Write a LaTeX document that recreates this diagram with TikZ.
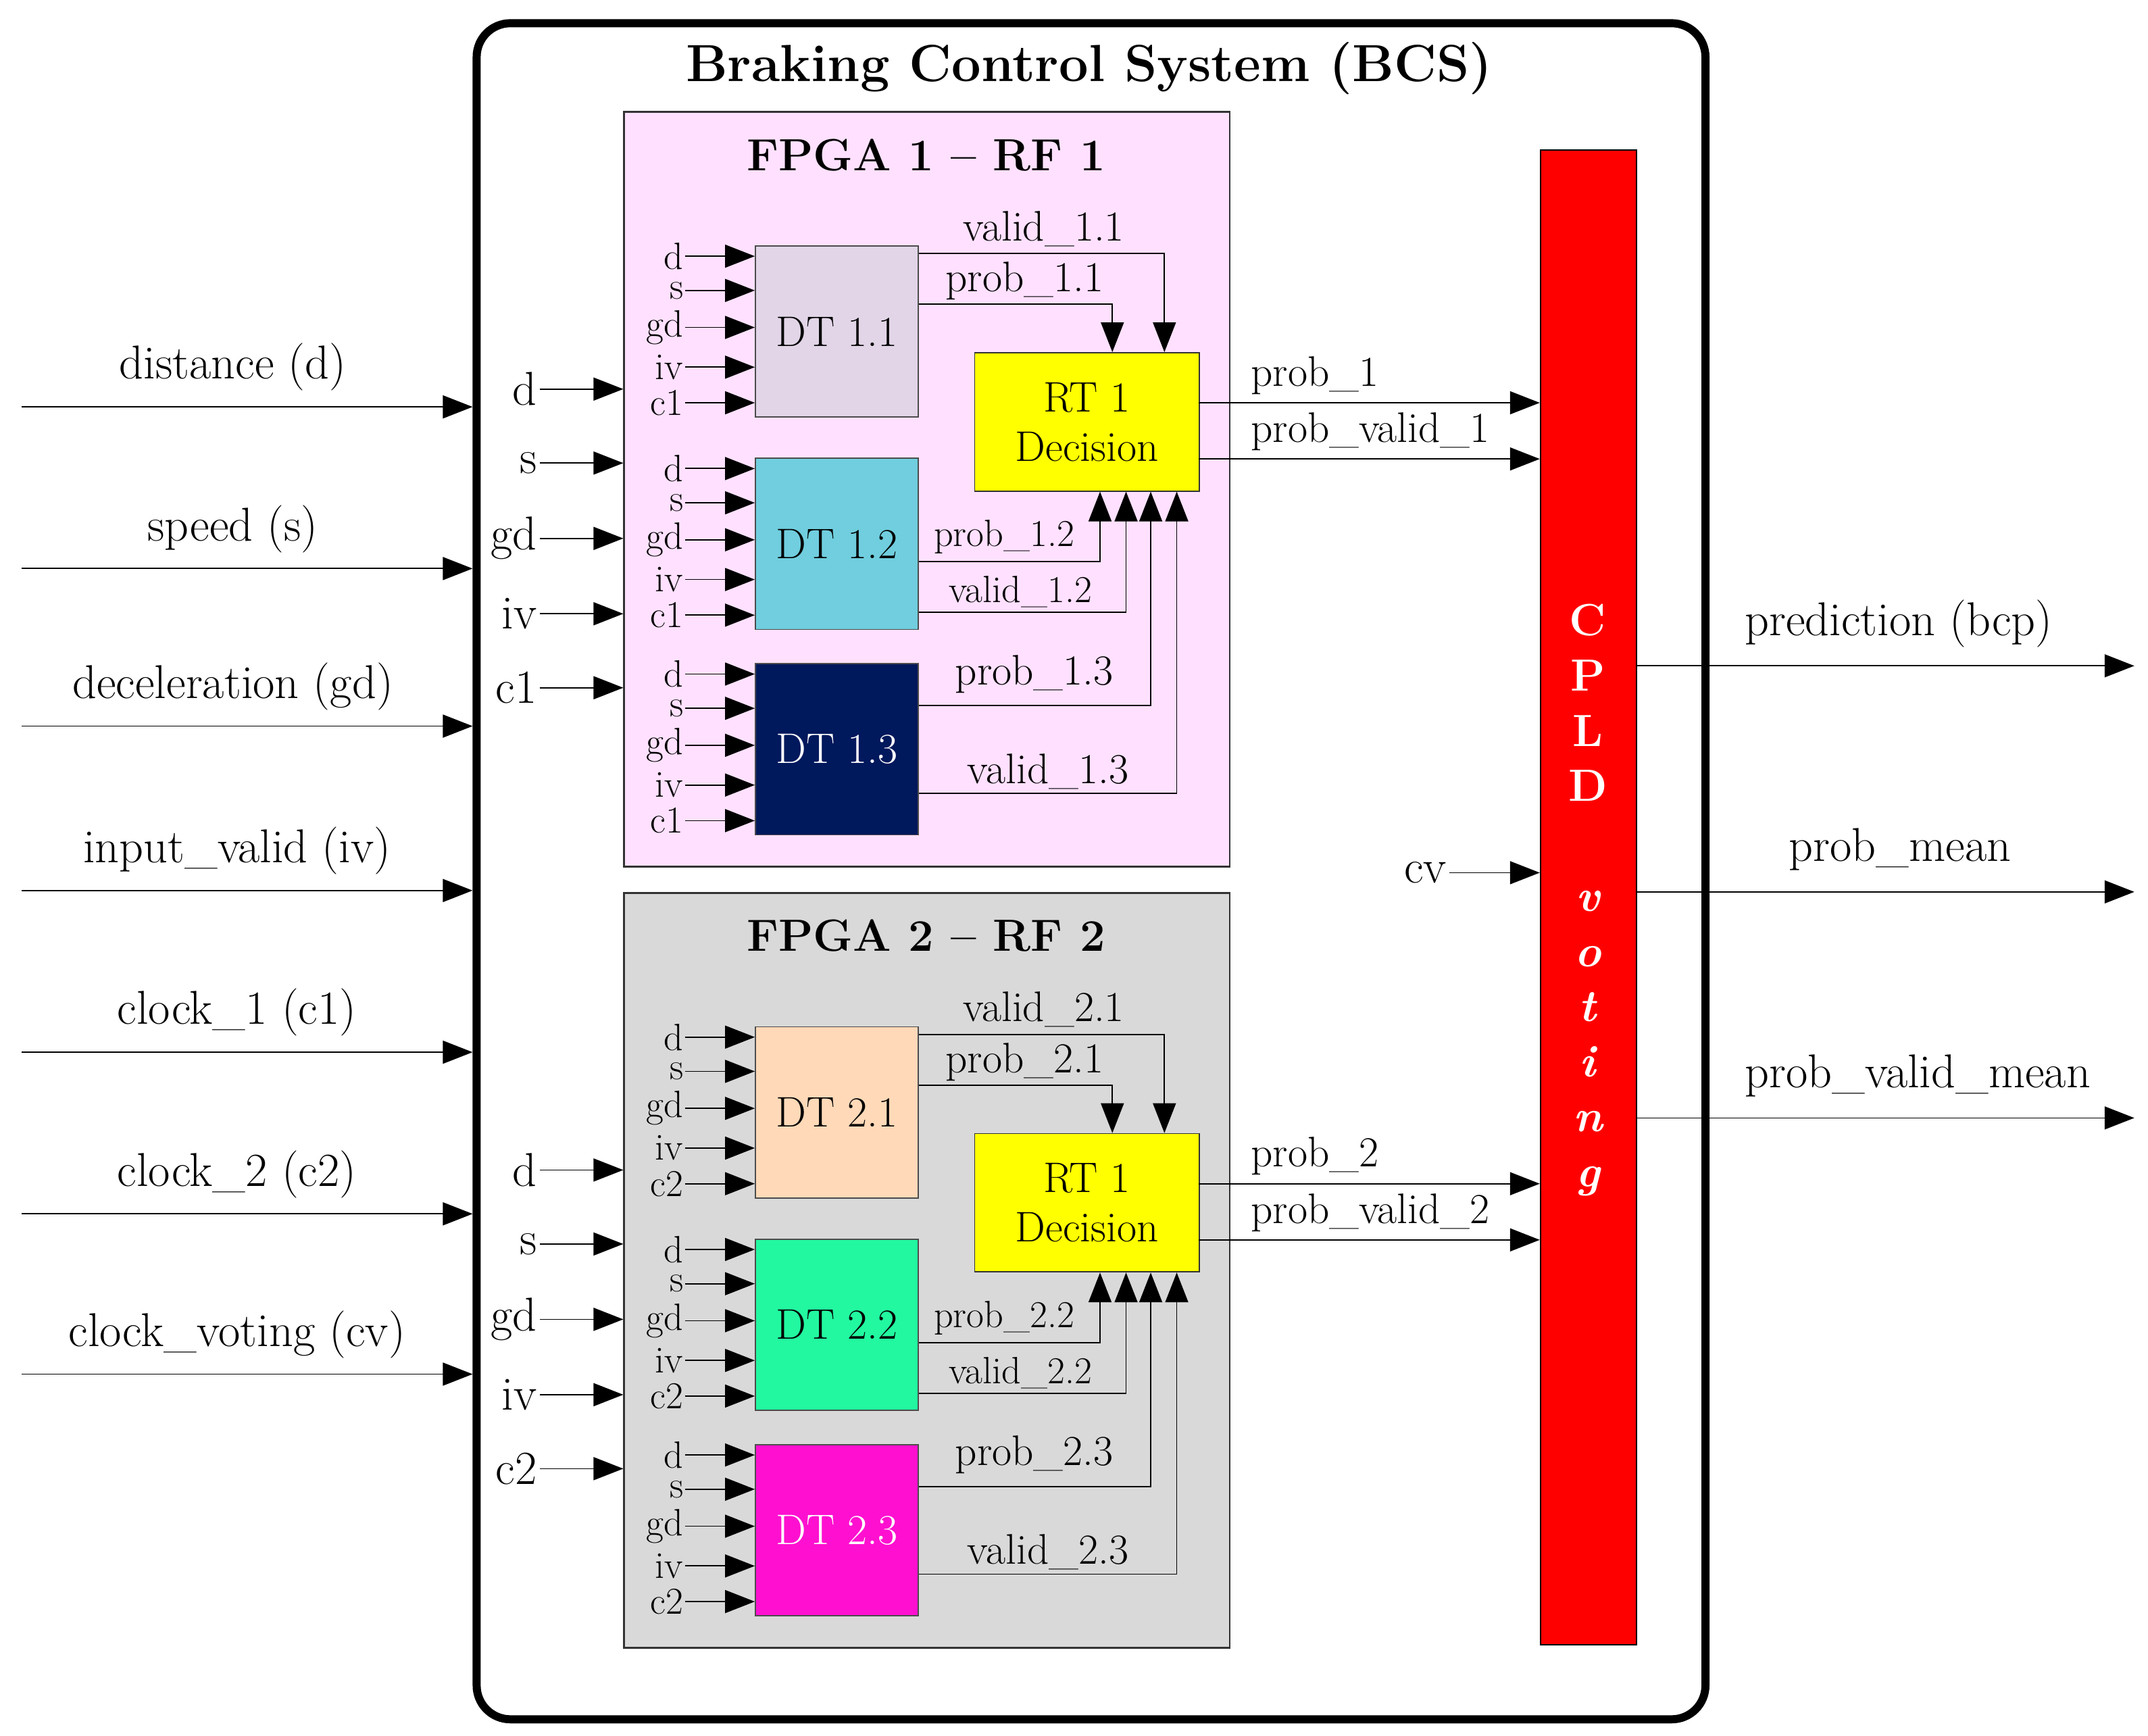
\documentclass[tikz,border=0pt]{standalone}
\usetikzlibrary{arrows.meta,calc}
\definecolor{pinkbg}{HTML}{FFE1FF}
\definecolor{graybg}{HTML}{D9D9D9}
\definecolor{dtA1}{HTML}{E1D5E7}
\definecolor{dtA2}{HTML}{70CEDE}
\definecolor{dtA3}{HTML}{00185C}
\definecolor{dtB1}{HTML}{FFD9B8}
\definecolor{dtB2}{HTML}{22F8A0}
\definecolor{dtB3}{HTML}{FF10D0}
\definecolor{yel}{HTML}{FFFF00}
\begin{document}
\begin{tikzpicture}[x=0.02028cm,y=-0.02028cm,
  arr/.style={-{Triangle[length=4.4mm,width=3.4mm]},line width=0.5pt},
  big/.style={font=\fontsize{20}{23}\selectfont},
  mid/.style={font=\fontsize{18}{21}\selectfont},
  sm/.style={font=\fontsize{16}{18}\selectfont},
  dt/.style={draw=black!70,line width=0.5pt,minimum width=119*0.02028cm,minimum height=125*0.02028cm,anchor=north west,inner sep=0pt,font=\fontsize{18}{21}\selectfont},
  port/.style={sm,anchor=east,inner sep=0.5pt},
  fin/.style={big,anchor=east,inner sep=1pt}]
\useasboundingbox (0,0) rectangle (1568,1267);
\node[draw,line width=3.4pt,rounded corners=0.5cm,minimum width=897*0.02028cm,minimum height=1238*0.02028cm,anchor=north west,inner sep=0pt] (bcs) at (345,14) {};
\node[font=\fontsize{22}{26}\selectfont\bfseries] (bcst) at (795,50) {Braking Control System (BCS)};
\node[draw,fill=red,line width=0.5pt,minimum width=70*0.02028cm,minimum height=1091*0.02028cm,anchor=north west,inner sep=0pt] (cpld) at (1124,109) {};
\node[text=white,font=\fontsize{19}{23.2}\selectfont\bfseries,align=center] (cpldt) at (1159,657) {C\\P\\L\\D\\~\\\itshape v\\\itshape o\\\itshape t\\\itshape i\\\itshape n\\\itshape g};
\foreach \k/\o/\bg/\c/\L in {1/0/pinkbg/c1/A,2/570/graybg/c2/B}{
  \node[draw=black!80,fill=\bg,line width=0.8pt,minimum width=442*0.02028cm,minimum height=551*0.02028cm,anchor=north west,inner sep=0pt] (fp\k) at (455,81+\o) {};
  \node[font=\fontsize{19}{22}\selectfont\bfseries] (fpt\k) at (676,113+\o) {FPGA \k\ -- RF \k};
  \node[draw=black!80,fill=yel,line width=0.5pt,minimum width=164*0.02028cm,minimum height=101*0.02028cm,anchor=north west,inner sep=0pt,align=center,font=\fontsize{18}{20.7}\selectfont] (rt\k) at (711,257+\o) {RT 1\\Decision};
  \foreach \n/\yy in {d/284,s/338,gd/393,iv/448,\c/502}{
    \node[fin] (fi\k\n) at (394,\yy+\o) {\n};
    \draw[arr] (fi\k\n.east) -- (fi\k\n.east -| fp\k.west);
  }
  \foreach \j/\t/\tc in {1/179/black,2/334/black,3/484/white}{
    \node[dt,fill=dt\L\j,text=\tc] (dt\k\j) at (551,\t+\o) {DT \k.\j};
    \foreach \n/\yy in {d/8,s/33,gd/60,iv/89,\c/115}{
      \node[port] (p\k\j\n) at (500,\t+\yy+\o) {\n};
      \draw[arr] (p\k\j\n.east) -- (p\k\j\n.east -| dt\k\j.west);
    }
  }
  \coordinate (v1\k) at (850,185+\o);
  \coordinate (q1\k) at (812,222+\o);
  \coordinate (q2\k) at (803,410+\o);
  \coordinate (v2\k) at (822,447+\o);
  \coordinate (q3\k) at (840,515+\o);
  \coordinate (v3\k) at (859,579+\o);
  \draw[arr] (v1\k -| dt\k1.east) -- (v1\k) -- (v1\k |- rt\k.north);
  \draw[arr] (q1\k -| dt\k1.east) -- (q1\k) -- (q1\k |- rt\k.north);
  \draw[arr] (q2\k -| dt\k2.east) -- (q2\k) -- (q2\k |- rt\k.south);
  \draw[arr] (v2\k -| dt\k2.east) -- (v2\k) -- (v2\k |- rt\k.south);
  \draw[arr] (q3\k -| dt\k3.east) -- (q3\k) -- (q3\k |- rt\k.south);
  \draw[arr] (v3\k -| dt\k3.east) -- (v3\k) -- (v3\k |- rt\k.south);
  \node[mid] (lv1\k) at (762,167+\o) {valid\_\k.1};
  \node[mid] (lq1\k) at (748,205+\o) {prob\_\k.1};
  \node[sm] (lq2\k) at (733,392+\o) {prob\_\k.2};
  \node[sm] (lv2\k) at (745,432+\o) {valid\_\k.2};
  \node[mid] (lq3\k) at (755,492+\o) {prob\_\k.3};
  \node[mid] (lv3\k) at (765,563+\o) {valid\_\k.3};
  \coordinate (ro1\k) at (875,294+\o);
  \coordinate (ro2\k) at (875,335+\o);
  \draw[arr] (ro1\k) -- (ro1\k -| cpld.west);
  \draw[arr] (ro2\k) -- (ro2\k -| cpld.west);
  \node[mid,anchor=west] (lr1\k) at (907,274+\o) {prob\_\k};
  \node[mid,anchor=west] (lr2\k) at (907,315+\o) {prob\_valid\_\k};
}
\foreach \i/\lab/\lx/\yy in {a/distance (d)/170/297,b/speed (s)/170/415,c/deceleration (gd)/170/530,d/input\_valid (iv)/173/650,e/clock\_1 (c1)/173/768,f/clock\_2 (c2)/173/886,g/clock\_voting (cv)/173/1003}{
  \coordinate (in\i) at (16,\yy);
  \node[big] (lin\i) at (\lx,\yy-29) {\lab};
  \draw[arr] (in\i) -- (in\i -| bcs.west);
}
\foreach \i/\lab/\lx/\yy in {a/prediction (bcp)/1386/486,b/prob\_mean/1387/651,c/prob\_valid\_mean/1400/816}{
  \coordinate (out\i) at (1558,\yy);
  \node[big] (lout\i) at (\lx,\yy-31) {\lab};
  \draw[arr] (out\i -| cpld.east) -- (out\i);
}
\node[big,anchor=east,inner sep=1pt] (cv) at (1058,637) {cv};
\draw[arr] (cv.east) -- (cv.east -| cpld.west);
\end{tikzpicture}
\end{document}
